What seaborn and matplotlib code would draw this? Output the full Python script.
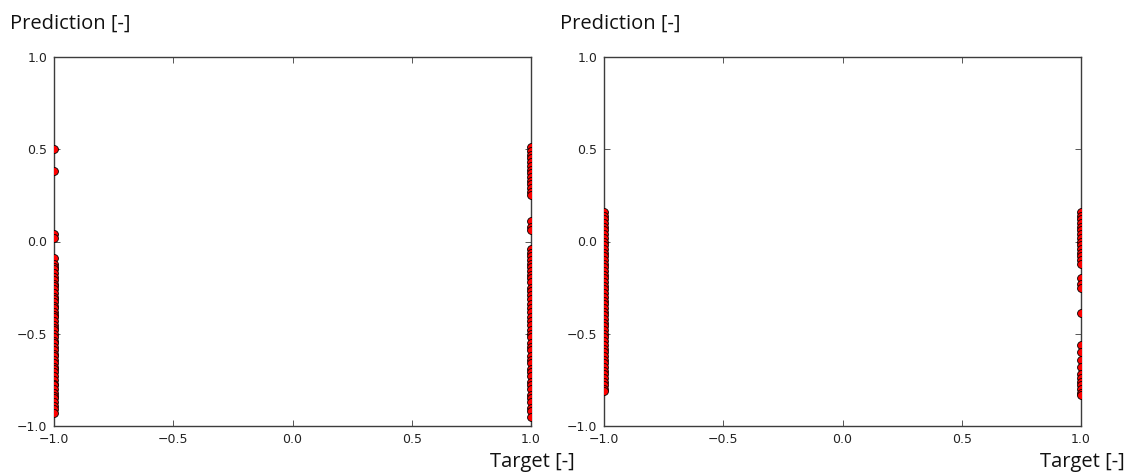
import numpy as np
import pandas as pd
import seaborn as sns
import matplotlib
matplotlib.use("Agg")
import matplotlib.pyplot as plt

# predictions (targets are -1 or 1)
left_pred_neg = [0.50, 0.38, 0.04, 0.02, -0.09, -0.12, -0.14, -0.15, -0.17, -0.19,
                 -0.21, -0.23, -0.24, -0.26, -0.28, -0.30, -0.31, -0.33, -0.35, -0.36,
                 -0.38, -0.40, -0.41, -0.43, -0.45, -0.47, -0.48, -0.50, -0.52, -0.54,
                 -0.55, -0.57, -0.59, -0.61, -0.62, -0.64, -0.66, -0.68, -0.69, -0.71,
                 -0.73, -0.75, -0.77, -0.78, -0.80, -0.82, -0.84, -0.85, -0.87, -0.89,
                 -0.91, -0.93]
left_pred_pos = [0.51, 0.49, 0.47, 0.45, 0.43, 0.41, 0.39, 0.37, 0.35, 0.33,
                 0.31, 0.29, 0.27, 0.25, 0.11, 0.08, 0.06, -0.04, -0.06, -0.08,
                 -0.10, -0.12, -0.14, -0.16, -0.18, -0.20, -0.22, -0.25, -0.27, -0.29,
                 -0.31, -0.34, -0.36, -0.38, -0.41, -0.43, -0.45, -0.48, -0.50, -0.52,
                 -0.55, -0.57, -0.59, -0.62, -0.64, -0.66, -0.69, -0.71, -0.73, -0.76,
                 -0.78, -0.80, -0.83, -0.85, -0.87, -0.90, -0.92, -0.95]
right_pred_neg = [0.16, 0.14, 0.12, 0.10, 0.08, 0.06, 0.04, 0.02, 0.00, -0.02,
                  -0.04, -0.06, -0.08, -0.10, -0.12, -0.14, -0.16, -0.18, -0.20, -0.22,
                  -0.24, -0.26, -0.28, -0.30, -0.32, -0.34, -0.36, -0.38, -0.40, -0.42,
                  -0.44, -0.46, -0.48, -0.50, -0.52, -0.54, -0.56, -0.58, -0.60, -0.62,
                  -0.64, -0.66, -0.68, -0.70, -0.72, -0.74, -0.76, -0.78, -0.80, -0.81]
right_pred_pos = [0.16, 0.14, 0.12, 0.10, 0.08, 0.06, 0.04, 0.02, 0.00, -0.02,
                  -0.04, -0.06, -0.08, -0.10, -0.12, -0.20, -0.23, -0.25, -0.39, -0.56,
                  -0.60, -0.64, -0.68, -0.72, -0.74, -0.76, -0.78, -0.80, -0.82, -0.83]

panels = [(left_pred_neg, left_pred_pos), (right_pred_neg, right_pred_pos)]
ticks = [-1.0, -0.5, 0.0, 0.5, 1.0]
tick_labels = ["\u22121.0", "\u22120.5", "0.0", "0.5", "1.0"]

sns.set_style("white")
plt.rcParams.update({
    "xtick.direction": "in", "ytick.direction": "in",
    "xtick.top": True, "ytick.right": True,
    "xtick.bottom": True, "ytick.left": True,
    "xtick.major.size": 4, "ytick.major.size": 4,
    "xtick.major.width": 0.6, "ytick.major.width": 0.6,
    "axes.edgecolor": "#3c3c3c", "axes.linewidth": 1.0,
    "xtick.color": "#3c3c3c", "ytick.color": "#3c3c3c",
    "xtick.labelcolor": "#222222", "ytick.labelcolor": "#222222",
})
plt.rcParams['font.family'] = ['DejaVu Sans']

fig = plt.figure(figsize=(11.32, 4.74), dpi=100)
axes = [fig.add_axes([54 / 1132, 48 / 474, 477 / 1132, 369 / 474]),
        fig.add_axes([604 / 1132, 48 / 474, 477 / 1132, 369 / 474])]

for ax, (neg, pos), x0 in zip(axes, panels, [54, 604]):
    df = pd.DataFrame({
        "target": [-1.0] * len(neg) + [1.0] * len(pos),
        "pred": neg + pos,
    })
    sns.scatterplot(data=df, x="target", y="pred", ax=ax, color="#ff0000",
                    edgecolor="black", linewidth=0.6, s=32, zorder=3)
    ax.set_xlim(-1, 1)
    ax.set_ylim(-1, 1)
    ax.set_xticks(ticks)
    ax.set_yticks(ticks)
    ax.set_xticklabels(tick_labels, fontsize=9)
    ax.set_yticklabels(tick_labels, fontsize=9)
    ax.tick_params(pad=5)
    ax.set_xlabel("")
    ax.set_ylabel("")
    fig.text((x0 - 44) / 1132, 1 - 24 / 474, "Prediction [-]", fontsize=14.5,
             family="Open Sans", color="#111111", ha="left", va="center")
    fig.text((x0 + 521) / 1132, 1 - 462 / 474, "Target [-]", fontsize=14.5,
             family="Open Sans", color="#111111", ha="right", va="center")

fig.savefig("out.png", dpi=100, facecolor="white")
